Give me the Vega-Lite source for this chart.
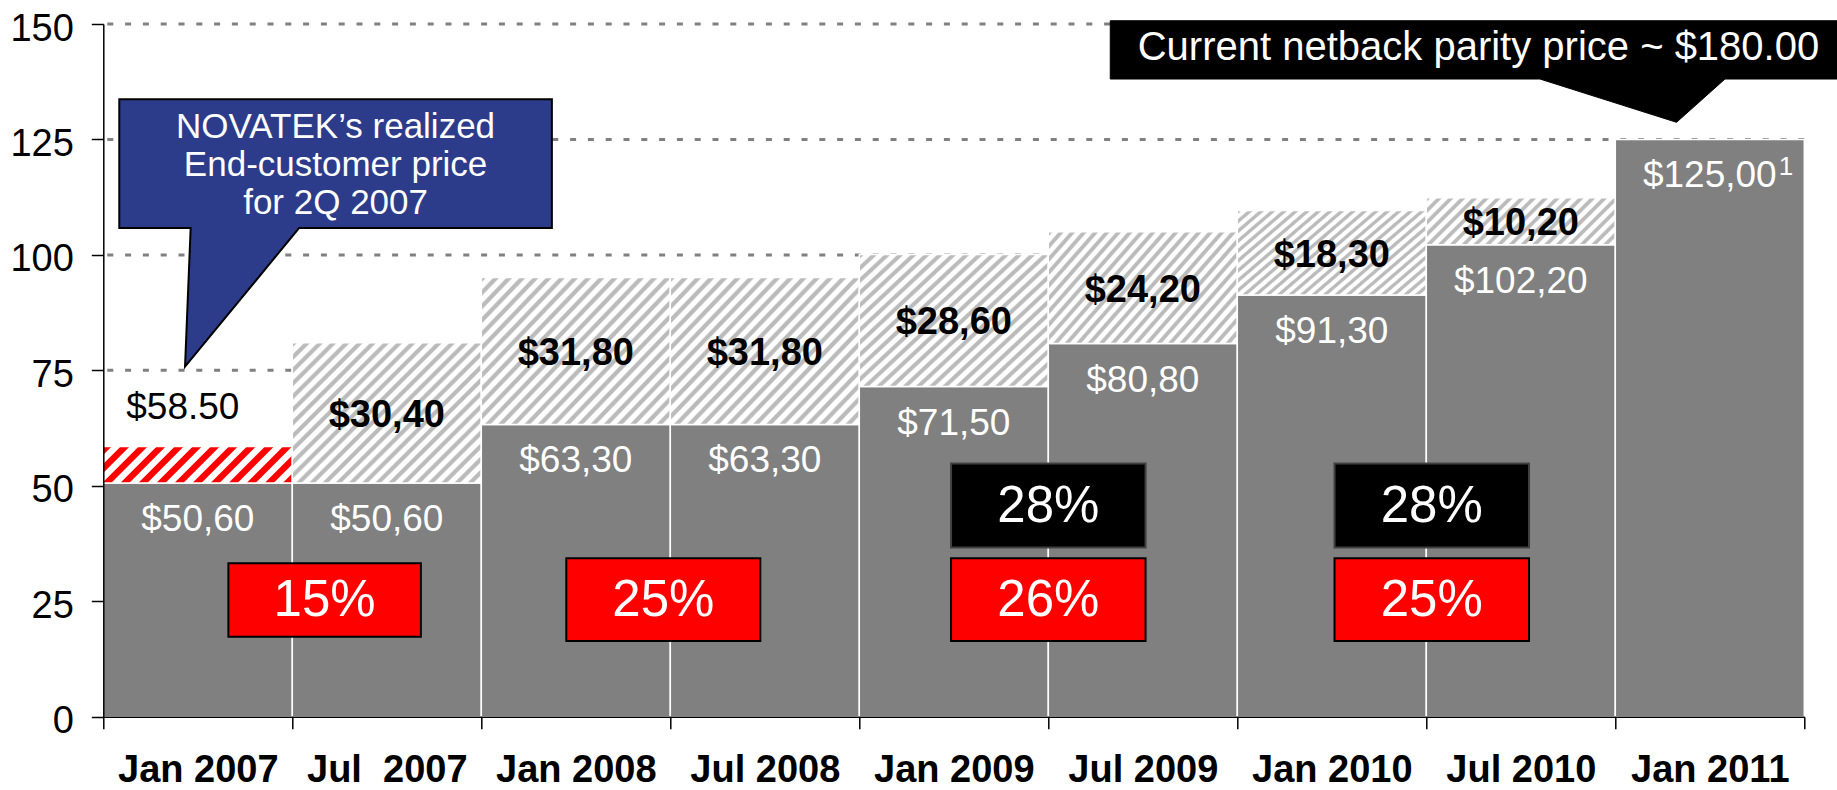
{
  "$schema": "https://vega.github.io/schema/vega-lite/v6.json",
  "width": 1701,
  "height": 692.7,
  "autosize": {"type": "none"},
  "padding": {"left": 103.3, "top": 24, "right": 32.7, "bottom": 73.3},
  "background": "#ffffff",
  "config": {"view": {"stroke": null}, "font": "Liberation Sans"},
  "datasets": {
    "bars": [
      {"period": "Jan 2007", "seg": "base", "value": 50.6, "label": "$50,60", "note": ""},
      {"period": "Jan 2007", "seg": "inc", "value": 7.9, "label": "$58.50", "note": ""},
      {"period": "Jul\u00a0 2007", "seg": "base", "value": 50.6, "label": "$50,60", "note": ""},
      {"period": "Jul\u00a0 2007", "seg": "inc", "value": 30.4, "label": "$30,40", "note": ""},
      {"period": "Jan 2008", "seg": "base", "value": 63.3, "label": "$63,30", "note": ""},
      {"period": "Jan 2008", "seg": "inc", "value": 31.8, "label": "$31,80", "note": ""},
      {"period": "Jul 2008", "seg": "base", "value": 63.3, "label": "$63,30", "note": ""},
      {"period": "Jul 2008", "seg": "inc", "value": 31.8, "label": "$31,80", "note": ""},
      {"period": "Jan 2009", "seg": "base", "value": 71.5, "label": "$71,50", "note": ""},
      {"period": "Jan 2009", "seg": "inc", "value": 28.6, "label": "$28,60", "note": ""},
      {"period": "Jul 2009", "seg": "base", "value": 80.8, "label": "$80,80", "note": ""},
      {"period": "Jul 2009", "seg": "inc", "value": 24.2, "label": "$24,20", "note": ""},
      {"period": "Jan 2010", "seg": "base", "value": 91.3, "label": "$91,30", "note": ""},
      {"period": "Jan 2010", "seg": "inc", "value": 18.3, "label": "$18,30", "note": ""},
      {"period": "Jul 2010", "seg": "base", "value": 102.2, "label": "$102,20", "note": ""},
      {"period": "Jul 2010", "seg": "inc", "value": 10.2, "label": "$10,20", "note": ""},
      {"period": "Jan 2011", "seg": "base", "value": 125.0, "label": "$125,00", "note": "1"}
    ],
    "grid": [{"v": 25}, {"v": 50}, {"v": 75}, {"v": 100}, {"v": 125}, {"v": 150}],
    "shares": [
      {"pct": "15%", "at": "Jul\u00a0 2007", "lvl": 25.27, "kind": "small", "grp": "g07"},
      {"pct": "25%", "at": "Jan 2008", "lvl": 25.34, "kind": "red", "grp": "g08"},
      {"pct": "26%", "at": "Jul 2009", "lvl": 25.34, "kind": "red", "grp": "g09"},
      {"pct": "28%", "at": "Jul 2009", "lvl": 45.73, "kind": "black", "grp": "g09"},
      {"pct": "25%", "at": "Jul 2010", "lvl": 25.34, "kind": "red", "grp": "g10"},
      {"pct": "28%", "at": "Jul 2010", "lvl": 45.73, "kind": "black", "grp": "g10"}
    ],
    "notes": [
      {"note": "NOVATEK\u2019s realized\nEnd-customer price\nfor 2Q 2007", "at": "Jul\u00a0 2007", "lvl": 104.74, "kind": "blue"},
      {"note": "Current netback parity price ~ $180.00", "at": "Jul 2010", "lvl": 139.6, "kind": "black"}
    ]
  },
  "layer": [
    {
      "data": {"name": "grid"},
      "mark": {"type": "rule", "stroke": "#808080", "strokeWidth": 3, "strokeDash": [6, 11.8]},
      "encoding": {
        "y": {
          "field": "v", "type": "quantitative", "title": null,
          "scale": {"domain": [0, 150], "nice": false, "zero": true},
          "axis": {
            "values": [0, 25, 50, 75, 100, 125, 150], "grid": false, "zindex": 1,
            "domainColor": "#000000", "domainWidth": 1.5,
            "tickColor": "#000000", "tickWidth": 1.5, "tickSize": 12,
            "labelFont": "Liberation Sans", "labelFontSize": 38, "labelColor": "#000000",
            "labelPadding": 18, "labelOffset": 5, "labelOverlap": false
          }
        }
      }
    },
    {
      "data": {"name": "bars"},
      "mark": {"type": "bar", "stroke": "#ffffff", "strokeWidth": 1.5},
      "encoding": {
        "x": {
          "field": "period", "type": "nominal", "title": null,
          "scale": {
            "domain": ["Jan 2007", "Jul\u00a0 2007", "Jan 2008", "Jul 2008", "Jan 2009", "Jul 2009", "Jan 2010", "Jul 2010", "Jan 2011"],
            "paddingInner": 0, "paddingOuter": 0
          },
          "axis": {
            "tickBand": "extent", "zindex": 1, "labelAngle": 0,
            "domainColor": "#000000", "domainWidth": 1.5,
            "tickColor": "#000000", "tickWidth": 1.5, "tickSize": 12,
            "labelFont": "Liberation Sans", "labelFontSize": 38, "labelFontWeight": "bold",
            "labelColor": "#000000", "labelPadding": 23, "labelLimit": 400
          }
        },
        "y": {"field": "value", "type": "quantitative", "stack": "zero", "title": null},
        "detail": {"field": "seg"},
        "order": {"field": "seg"},
        "fill": {
          "condition": [
            {"test": "datum.seg === 'base'", "value": "#808080"},
            {"test": "datum.period === 'Jan 2007'", "value": {
              "gradient": "linear", "x1": 0, "y1": 0, "x2": 1.150, "y2": 0.222,
              "stops": [
                {"offset": 0, "color": "#ff0000"}, {"offset": 0.034, "color": "#ff0000"}, {"offset": 0.04, "color": "#ffffff"}, {"offset": 0.074, "color": "#ffffff"},
                {"offset": 0.08, "color": "#ff0000"}, {"offset": 0.114, "color": "#ff0000"}, {"offset": 0.12, "color": "#ffffff"}, {"offset": 0.154, "color": "#ffffff"},
                {"offset": 0.16, "color": "#ff0000"}, {"offset": 0.194, "color": "#ff0000"}, {"offset": 0.2, "color": "#ffffff"}, {"offset": 0.234, "color": "#ffffff"},
                {"offset": 0.24, "color": "#ff0000"}, {"offset": 0.274, "color": "#ff0000"}, {"offset": 0.28, "color": "#ffffff"}, {"offset": 0.314, "color": "#ffffff"},
                {"offset": 0.32, "color": "#ff0000"}, {"offset": 0.354, "color": "#ff0000"}, {"offset": 0.36, "color": "#ffffff"}, {"offset": 0.394, "color": "#ffffff"},
                {"offset": 0.4, "color": "#ff0000"}, {"offset": 0.434, "color": "#ff0000"}, {"offset": 0.44, "color": "#ffffff"}, {"offset": 0.474, "color": "#ffffff"},
                {"offset": 0.48, "color": "#ff0000"}, {"offset": 0.514, "color": "#ff0000"}, {"offset": 0.52, "color": "#ffffff"}, {"offset": 0.554, "color": "#ffffff"},
                {"offset": 0.56, "color": "#ff0000"}, {"offset": 0.594, "color": "#ff0000"}, {"offset": 0.6, "color": "#ffffff"}, {"offset": 0.634, "color": "#ffffff"},
                {"offset": 0.64, "color": "#ff0000"}, {"offset": 0.674, "color": "#ff0000"}, {"offset": 0.68, "color": "#ffffff"}, {"offset": 0.714, "color": "#ffffff"},
                {"offset": 0.72, "color": "#ff0000"}, {"offset": 0.754, "color": "#ff0000"}, {"offset": 0.76, "color": "#ffffff"}, {"offset": 0.794, "color": "#ffffff"},
                {"offset": 0.8, "color": "#ff0000"}, {"offset": 0.834, "color": "#ff0000"}, {"offset": 0.84, "color": "#ffffff"}, {"offset": 0.874, "color": "#ffffff"},
                {"offset": 0.88, "color": "#ff0000"}, {"offset": 0.914, "color": "#ff0000"}, {"offset": 0.92, "color": "#ffffff"}, {"offset": 0.954, "color": "#ffffff"},
                {"offset": 0.96, "color": "#ff0000"}, {"offset": 0.994, "color": "#ff0000"}, {"offset": 1, "color": "#ffffff"}
              ]
            }},
            {"test": "datum.period === 'Jul 2009' || datum.period === 'Jan 2010'", "value": {
              "gradient": "linear", "x1": 0, "y1": 0, "x2": 1.1965, "y2": 0.6222,
              "stops": [
                {"offset": 0, "color": "#bbbbbb"}, {"offset": 0.012, "color": "#bbbbbb"}, {"offset": 0.018, "color": "#ffffff"}, {"offset": 0.034, "color": "#ffffff"},
                {"offset": 0.04, "color": "#bbbbbb"}, {"offset": 0.052, "color": "#bbbbbb"}, {"offset": 0.058, "color": "#ffffff"}, {"offset": 0.074, "color": "#ffffff"},
                {"offset": 0.08, "color": "#bbbbbb"}, {"offset": 0.092, "color": "#bbbbbb"}, {"offset": 0.098, "color": "#ffffff"}, {"offset": 0.114, "color": "#ffffff"},
                {"offset": 0.12, "color": "#bbbbbb"}, {"offset": 0.132, "color": "#bbbbbb"}, {"offset": 0.138, "color": "#ffffff"}, {"offset": 0.154, "color": "#ffffff"},
                {"offset": 0.16, "color": "#bbbbbb"}, {"offset": 0.172, "color": "#bbbbbb"}, {"offset": 0.178, "color": "#ffffff"}, {"offset": 0.194, "color": "#ffffff"},
                {"offset": 0.2, "color": "#bbbbbb"}, {"offset": 0.212, "color": "#bbbbbb"}, {"offset": 0.218, "color": "#ffffff"}, {"offset": 0.234, "color": "#ffffff"},
                {"offset": 0.24, "color": "#bbbbbb"}, {"offset": 0.252, "color": "#bbbbbb"}, {"offset": 0.258, "color": "#ffffff"}, {"offset": 0.274, "color": "#ffffff"},
                {"offset": 0.28, "color": "#bbbbbb"}, {"offset": 0.292, "color": "#bbbbbb"}, {"offset": 0.298, "color": "#ffffff"}, {"offset": 0.314, "color": "#ffffff"},
                {"offset": 0.32, "color": "#bbbbbb"}, {"offset": 0.332, "color": "#bbbbbb"}, {"offset": 0.338, "color": "#ffffff"}, {"offset": 0.354, "color": "#ffffff"},
                {"offset": 0.36, "color": "#bbbbbb"}, {"offset": 0.372, "color": "#bbbbbb"}, {"offset": 0.378, "color": "#ffffff"}, {"offset": 0.394, "color": "#ffffff"},
                {"offset": 0.4, "color": "#bbbbbb"}, {"offset": 0.412, "color": "#bbbbbb"}, {"offset": 0.418, "color": "#ffffff"}, {"offset": 0.434, "color": "#ffffff"},
                {"offset": 0.44, "color": "#bbbbbb"}, {"offset": 0.452, "color": "#bbbbbb"}, {"offset": 0.458, "color": "#ffffff"}, {"offset": 0.474, "color": "#ffffff"},
                {"offset": 0.48, "color": "#bbbbbb"}, {"offset": 0.492, "color": "#bbbbbb"}, {"offset": 0.498, "color": "#ffffff"}, {"offset": 0.514, "color": "#ffffff"},
                {"offset": 0.52, "color": "#bbbbbb"}, {"offset": 0.532, "color": "#bbbbbb"}, {"offset": 0.538, "color": "#ffffff"}, {"offset": 0.554, "color": "#ffffff"},
                {"offset": 0.56, "color": "#bbbbbb"}, {"offset": 0.572, "color": "#bbbbbb"}, {"offset": 0.578, "color": "#ffffff"}, {"offset": 0.594, "color": "#ffffff"},
                {"offset": 0.6, "color": "#bbbbbb"}, {"offset": 0.612, "color": "#bbbbbb"}, {"offset": 0.618, "color": "#ffffff"}, {"offset": 0.634, "color": "#ffffff"},
                {"offset": 0.64, "color": "#bbbbbb"}, {"offset": 0.652, "color": "#bbbbbb"}, {"offset": 0.658, "color": "#ffffff"}, {"offset": 0.674, "color": "#ffffff"},
                {"offset": 0.68, "color": "#bbbbbb"}, {"offset": 0.692, "color": "#bbbbbb"}, {"offset": 0.698, "color": "#ffffff"}, {"offset": 0.714, "color": "#ffffff"},
                {"offset": 0.72, "color": "#bbbbbb"}, {"offset": 0.732, "color": "#bbbbbb"}, {"offset": 0.738, "color": "#ffffff"}, {"offset": 0.754, "color": "#ffffff"},
                {"offset": 0.76, "color": "#bbbbbb"}, {"offset": 0.772, "color": "#bbbbbb"}, {"offset": 0.778, "color": "#ffffff"}, {"offset": 0.794, "color": "#ffffff"},
                {"offset": 0.8, "color": "#bbbbbb"}, {"offset": 0.812, "color": "#bbbbbb"}, {"offset": 0.818, "color": "#ffffff"}, {"offset": 0.834, "color": "#ffffff"},
                {"offset": 0.84, "color": "#bbbbbb"}, {"offset": 0.852, "color": "#bbbbbb"}, {"offset": 0.858, "color": "#ffffff"}, {"offset": 0.874, "color": "#ffffff"},
                {"offset": 0.88, "color": "#bbbbbb"}, {"offset": 0.892, "color": "#bbbbbb"}, {"offset": 0.898, "color": "#ffffff"}, {"offset": 0.914, "color": "#ffffff"},
                {"offset": 0.92, "color": "#bbbbbb"}, {"offset": 0.932, "color": "#bbbbbb"}, {"offset": 0.938, "color": "#ffffff"}, {"offset": 0.954, "color": "#ffffff"},
                {"offset": 0.96, "color": "#bbbbbb"}, {"offset": 0.972, "color": "#bbbbbb"}, {"offset": 0.978, "color": "#ffffff"}, {"offset": 0.994, "color": "#ffffff"},
                {"offset": 1, "color": "#bbbbbb"}
              ]
            }},
            {"test": "datum.period === 'Jul 2010'", "value": {
              "gradient": "linear", "x1": 0, "y1": 0, "x2": 1.176, "y2": 0.2929,
              "stops": [
                {"offset": 0, "color": "#bbbbbb"}, {"offset": 0.015, "color": "#bbbbbb"}, {"offset": 0.0225, "color": "#ffffff"}, {"offset": 0.0425, "color": "#ffffff"},
                {"offset": 0.05, "color": "#bbbbbb"}, {"offset": 0.065, "color": "#bbbbbb"}, {"offset": 0.0725, "color": "#ffffff"}, {"offset": 0.0925, "color": "#ffffff"},
                {"offset": 0.1, "color": "#bbbbbb"}, {"offset": 0.115, "color": "#bbbbbb"}, {"offset": 0.1225, "color": "#ffffff"}, {"offset": 0.1425, "color": "#ffffff"},
                {"offset": 0.15, "color": "#bbbbbb"}, {"offset": 0.165, "color": "#bbbbbb"}, {"offset": 0.1725, "color": "#ffffff"}, {"offset": 0.1925, "color": "#ffffff"},
                {"offset": 0.2, "color": "#bbbbbb"}, {"offset": 0.215, "color": "#bbbbbb"}, {"offset": 0.2225, "color": "#ffffff"}, {"offset": 0.2425, "color": "#ffffff"},
                {"offset": 0.25, "color": "#bbbbbb"}, {"offset": 0.265, "color": "#bbbbbb"}, {"offset": 0.2725, "color": "#ffffff"}, {"offset": 0.2925, "color": "#ffffff"},
                {"offset": 0.3, "color": "#bbbbbb"}, {"offset": 0.315, "color": "#bbbbbb"}, {"offset": 0.3225, "color": "#ffffff"}, {"offset": 0.3425, "color": "#ffffff"},
                {"offset": 0.35, "color": "#bbbbbb"}, {"offset": 0.365, "color": "#bbbbbb"}, {"offset": 0.3725, "color": "#ffffff"}, {"offset": 0.3925, "color": "#ffffff"},
                {"offset": 0.4, "color": "#bbbbbb"}, {"offset": 0.415, "color": "#bbbbbb"}, {"offset": 0.4225, "color": "#ffffff"}, {"offset": 0.4425, "color": "#ffffff"},
                {"offset": 0.45, "color": "#bbbbbb"}, {"offset": 0.465, "color": "#bbbbbb"}, {"offset": 0.4725, "color": "#ffffff"}, {"offset": 0.4925, "color": "#ffffff"},
                {"offset": 0.5, "color": "#bbbbbb"}, {"offset": 0.515, "color": "#bbbbbb"}, {"offset": 0.5225, "color": "#ffffff"}, {"offset": 0.5425, "color": "#ffffff"},
                {"offset": 0.55, "color": "#bbbbbb"}, {"offset": 0.565, "color": "#bbbbbb"}, {"offset": 0.5725, "color": "#ffffff"}, {"offset": 0.5925, "color": "#ffffff"},
                {"offset": 0.6, "color": "#bbbbbb"}, {"offset": 0.615, "color": "#bbbbbb"}, {"offset": 0.6225, "color": "#ffffff"}, {"offset": 0.6425, "color": "#ffffff"},
                {"offset": 0.65, "color": "#bbbbbb"}, {"offset": 0.665, "color": "#bbbbbb"}, {"offset": 0.6725, "color": "#ffffff"}, {"offset": 0.6925, "color": "#ffffff"},
                {"offset": 0.7, "color": "#bbbbbb"}, {"offset": 0.715, "color": "#bbbbbb"}, {"offset": 0.7225, "color": "#ffffff"}, {"offset": 0.7425, "color": "#ffffff"},
                {"offset": 0.75, "color": "#bbbbbb"}, {"offset": 0.765, "color": "#bbbbbb"}, {"offset": 0.7725, "color": "#ffffff"}, {"offset": 0.7925, "color": "#ffffff"},
                {"offset": 0.8, "color": "#bbbbbb"}, {"offset": 0.815, "color": "#bbbbbb"}, {"offset": 0.8225, "color": "#ffffff"}, {"offset": 0.8425, "color": "#ffffff"},
                {"offset": 0.85, "color": "#bbbbbb"}, {"offset": 0.865, "color": "#bbbbbb"}, {"offset": 0.8725, "color": "#ffffff"}, {"offset": 0.8925, "color": "#ffffff"},
                {"offset": 0.9, "color": "#bbbbbb"}, {"offset": 0.915, "color": "#bbbbbb"}, {"offset": 0.9225, "color": "#ffffff"}, {"offset": 0.9425, "color": "#ffffff"},
                {"offset": 0.95, "color": "#bbbbbb"}, {"offset": 0.965, "color": "#bbbbbb"}, {"offset": 0.9725, "color": "#ffffff"}, {"offset": 0.9925, "color": "#ffffff"},
                {"offset": 1, "color": "#bbbbbb"}
              ]
            }}
          ],
          "value": {
            "gradient": "linear", "x1": 0, "y1": 0, "x2": 1.1218, "y2": 0.8369,
            "stops": [
              {"offset": 0, "color": "#bbbbbb"}, {"offset": 0.012, "color": "#bbbbbb"}, {"offset": 0.018, "color": "#ffffff"}, {"offset": 0.034, "color": "#ffffff"},
              {"offset": 0.04, "color": "#bbbbbb"}, {"offset": 0.052, "color": "#bbbbbb"}, {"offset": 0.058, "color": "#ffffff"}, {"offset": 0.074, "color": "#ffffff"},
              {"offset": 0.08, "color": "#bbbbbb"}, {"offset": 0.092, "color": "#bbbbbb"}, {"offset": 0.098, "color": "#ffffff"}, {"offset": 0.114, "color": "#ffffff"},
              {"offset": 0.12, "color": "#bbbbbb"}, {"offset": 0.132, "color": "#bbbbbb"}, {"offset": 0.138, "color": "#ffffff"}, {"offset": 0.154, "color": "#ffffff"},
              {"offset": 0.16, "color": "#bbbbbb"}, {"offset": 0.172, "color": "#bbbbbb"}, {"offset": 0.178, "color": "#ffffff"}, {"offset": 0.194, "color": "#ffffff"},
              {"offset": 0.2, "color": "#bbbbbb"}, {"offset": 0.212, "color": "#bbbbbb"}, {"offset": 0.218, "color": "#ffffff"}, {"offset": 0.234, "color": "#ffffff"},
              {"offset": 0.24, "color": "#bbbbbb"}, {"offset": 0.252, "color": "#bbbbbb"}, {"offset": 0.258, "color": "#ffffff"}, {"offset": 0.274, "color": "#ffffff"},
              {"offset": 0.28, "color": "#bbbbbb"}, {"offset": 0.292, "color": "#bbbbbb"}, {"offset": 0.298, "color": "#ffffff"}, {"offset": 0.314, "color": "#ffffff"},
              {"offset": 0.32, "color": "#bbbbbb"}, {"offset": 0.332, "color": "#bbbbbb"}, {"offset": 0.338, "color": "#ffffff"}, {"offset": 0.354, "color": "#ffffff"},
              {"offset": 0.36, "color": "#bbbbbb"}, {"offset": 0.372, "color": "#bbbbbb"}, {"offset": 0.378, "color": "#ffffff"}, {"offset": 0.394, "color": "#ffffff"},
              {"offset": 0.4, "color": "#bbbbbb"}, {"offset": 0.412, "color": "#bbbbbb"}, {"offset": 0.418, "color": "#ffffff"}, {"offset": 0.434, "color": "#ffffff"},
              {"offset": 0.44, "color": "#bbbbbb"}, {"offset": 0.452, "color": "#bbbbbb"}, {"offset": 0.458, "color": "#ffffff"}, {"offset": 0.474, "color": "#ffffff"},
              {"offset": 0.48, "color": "#bbbbbb"}, {"offset": 0.492, "color": "#bbbbbb"}, {"offset": 0.498, "color": "#ffffff"}, {"offset": 0.514, "color": "#ffffff"},
              {"offset": 0.52, "color": "#bbbbbb"}, {"offset": 0.532, "color": "#bbbbbb"}, {"offset": 0.538, "color": "#ffffff"}, {"offset": 0.554, "color": "#ffffff"},
              {"offset": 0.56, "color": "#bbbbbb"}, {"offset": 0.572, "color": "#bbbbbb"}, {"offset": 0.578, "color": "#ffffff"}, {"offset": 0.594, "color": "#ffffff"},
              {"offset": 0.6, "color": "#bbbbbb"}, {"offset": 0.612, "color": "#bbbbbb"}, {"offset": 0.618, "color": "#ffffff"}, {"offset": 0.634, "color": "#ffffff"},
              {"offset": 0.64, "color": "#bbbbbb"}, {"offset": 0.652, "color": "#bbbbbb"}, {"offset": 0.658, "color": "#ffffff"}, {"offset": 0.674, "color": "#ffffff"},
              {"offset": 0.68, "color": "#bbbbbb"}, {"offset": 0.692, "color": "#bbbbbb"}, {"offset": 0.698, "color": "#ffffff"}, {"offset": 0.714, "color": "#ffffff"},
              {"offset": 0.72, "color": "#bbbbbb"}, {"offset": 0.732, "color": "#bbbbbb"}, {"offset": 0.738, "color": "#ffffff"}, {"offset": 0.754, "color": "#ffffff"},
              {"offset": 0.76, "color": "#bbbbbb"}, {"offset": 0.772, "color": "#bbbbbb"}, {"offset": 0.778, "color": "#ffffff"}, {"offset": 0.794, "color": "#ffffff"},
              {"offset": 0.8, "color": "#bbbbbb"}, {"offset": 0.812, "color": "#bbbbbb"}, {"offset": 0.818, "color": "#ffffff"}, {"offset": 0.834, "color": "#ffffff"},
              {"offset": 0.84, "color": "#bbbbbb"}, {"offset": 0.852, "color": "#bbbbbb"}, {"offset": 0.858, "color": "#ffffff"}, {"offset": 0.874, "color": "#ffffff"},
              {"offset": 0.88, "color": "#bbbbbb"}, {"offset": 0.892, "color": "#bbbbbb"}, {"offset": 0.898, "color": "#ffffff"}, {"offset": 0.914, "color": "#ffffff"},
              {"offset": 0.92, "color": "#bbbbbb"}, {"offset": 0.932, "color": "#bbbbbb"}, {"offset": 0.938, "color": "#ffffff"}, {"offset": 0.954, "color": "#ffffff"},
              {"offset": 0.96, "color": "#bbbbbb"}, {"offset": 0.972, "color": "#bbbbbb"}, {"offset": 0.978, "color": "#ffffff"}, {"offset": 0.994, "color": "#ffffff"},
              {"offset": 1, "color": "#bbbbbb"}
            ]
          }
        }
      }
    },
    {
      "data": {"name": "bars"},
      "mark": {"type": "text", "font": "Liberation Sans", "fontSize": 37, "fill": "#ffffff", "align": "center", "baseline": "alphabetic", "dy": 48},
      "encoding": {
        "x": {"field": "period", "type": "nominal", "title": null},
        "y": {"field": "value", "type": "quantitative", "stack": "zero", "title": null},
        "detail": {"field": "seg"},
        "order": {"field": "seg"},
        "text": {"condition": {"test": "datum.seg === 'base'", "field": "label", "type": "nominal"}, "value": ""}
      }
    },
    {
      "data": {"name": "bars"},
      "mark": {"type": "text", "font": "Liberation Sans", "fontSize": 26, "fill": "#ffffff", "align": "left", "baseline": "alphabetic", "dy": 35.6, "dx": 69},
      "encoding": {
        "x": {"field": "period", "type": "nominal", "title": null},
        "y": {"field": "value", "type": "quantitative", "stack": "zero", "title": null},
        "detail": {"field": "seg"},
        "order": {"field": "seg"},
        "text": {"field": "note", "type": "nominal"}
      }
    },
    {
      "data": {"name": "bars"},
      "mark": {"type": "text", "font": "Liberation Sans", "fontSize": 38, "fontWeight": "bold", "fill": "#000000", "align": "center", "baseline": "middle", "dy": 3},
      "encoding": {
        "x": {"field": "period", "type": "nominal", "title": null},
        "y": {"field": "value", "type": "quantitative", "stack": "zero", "bandPosition": 0.5, "title": null},
        "detail": {"field": "seg"},
        "order": {"field": "seg"},
        "text": {"condition": {"test": "datum.seg === 'inc' && datum.period !== 'Jan 2007'", "field": "label", "type": "nominal"}, "value": ""}
      }
    },
    {
      "data": {"name": "bars"},
      "mark": {"type": "text", "font": "Liberation Sans", "fontSize": 37, "fill": "#000000", "align": "center", "baseline": "middle", "dy": -38.6, "dx": -15},
      "encoding": {
        "x": {"field": "period", "type": "nominal", "title": null},
        "y": {"field": "value", "type": "quantitative", "stack": "zero", "title": null},
        "detail": {"field": "seg"},
        "order": {"field": "seg"},
        "text": {"condition": {"test": "datum.seg === 'inc' && datum.period === 'Jan 2007'", "field": "label", "type": "nominal"}, "value": ""}
      }
    },
    {
      "data": {"name": "shares"},
      "transform": [{"filter": "datum.grp === 'g07'"}],
      "encoding": {
        "x": {"field": "at", "type": "nominal", "bandPosition": 0.171, "title": null},
        "y": {"field": "lvl", "type": "quantitative", "title": null}
      },
      "layer": [
        {"mark": {"type": "point", "shape": "M-1,-0.381H1V0.381H-1Z", "size": 37056, "filled": true, "fill": "#ff0000", "stroke": "#000000", "strokeWidth": 2, "opacity": 1}},
        {"mark": {"type": "text", "font": "Liberation Sans", "fontSize": 51, "fill": "#ffffff", "align": "center", "baseline": "middle", "dy": 1}, "encoding": {"text": {"field": "pct"}}}
      ]
    },
    {
      "data": {"name": "shares"},
      "transform": [{"filter": "datum.grp === 'g08'"}],
      "encoding": {
        "x": {"field": "at", "type": "nominal", "bandPosition": 0.963, "title": null},
        "y": {"field": "lvl", "type": "quantitative", "title": null}
      },
      "layer": [
        {"mark": {"type": "point", "shape": "M-1,-0.426H1V0.426H-1Z", "size": 37636, "filled": true, "fill": "#ff0000", "stroke": "#000000", "strokeWidth": 2, "opacity": 1}},
        {"mark": {"type": "text", "font": "Liberation Sans", "fontSize": 51, "fill": "#ffffff", "align": "center", "baseline": "middle", "dy": 1}, "encoding": {"text": {"field": "pct"}}}
      ]
    },
    {
      "data": {"name": "shares"},
      "transform": [{"filter": "datum.grp === 'g09'"}],
      "encoding": {
        "x": {"field": "at", "type": "nominal", "bandPosition": 0, "title": null},
        "y": {"field": "lvl", "type": "quantitative", "title": null}
      },
      "layer": [
        {
          "mark": {"type": "point", "size": 37830, "filled": true, "strokeWidth": 2, "opacity": 1},
          "encoding": {
            "shape": {"condition": {"test": "datum.kind === 'black'", "value": "M-1,-0.432H1V0.432H-1Z"}, "value": "M-1,-0.426H1V0.426H-1Z"},
            "fill": {"condition": {"test": "datum.kind === 'black'", "value": "#000000"}, "value": "#ff0000"},
            "stroke": {"condition": {"test": "datum.kind === 'black'", "value": "#404040"}, "value": "#000000"}
          }
        },
        {"mark": {"type": "text", "font": "Liberation Sans", "fontSize": 51, "fill": "#ffffff", "align": "center", "baseline": "middle", "dy": 1}, "encoding": {"text": {"field": "pct"}}}
      ]
    },
    {
      "data": {"name": "shares"},
      "transform": [{"filter": "datum.grp === 'g10'"}],
      "encoding": {
        "x": {"field": "at", "type": "nominal", "bandPosition": 0.029, "title": null},
        "y": {"field": "lvl", "type": "quantitative", "title": null}
      },
      "layer": [
        {
          "mark": {"type": "point", "size": 37830, "filled": true, "strokeWidth": 2, "opacity": 1},
          "encoding": {
            "shape": {"condition": {"test": "datum.kind === 'black'", "value": "M-1,-0.432H1V0.432H-1Z"}, "value": "M-1,-0.426H1V0.426H-1Z"},
            "fill": {"condition": {"test": "datum.kind === 'black'", "value": "#000000"}, "value": "#ff0000"},
            "stroke": {"condition": {"test": "datum.kind === 'black'", "value": "#404040"}, "value": "#000000"}
          }
        },
        {"mark": {"type": "text", "font": "Liberation Sans", "fontSize": 51, "fill": "#ffffff", "align": "center", "baseline": "middle", "dy": 1}, "encoding": {"text": {"field": "pct"}}}
      ]
    },
    {
      "data": {"name": "notes"},
      "transform": [{"filter": "datum.kind === 'blue'"}],
      "encoding": {
        "x": {"field": "at", "type": "nominal", "bandPosition": 0.229, "title": null},
        "y": {"field": "lvl", "type": "quantitative", "title": null}
      },
      "layer": [
        {"mark": {"type": "point", "shape": "M-1,-0.618H1V-0.023H-0.169L-0.696,0.618L-0.670,-0.023H-1Z", "size": 187143, "filled": true, "fill": "#2c3c8a", "stroke": "#000000", "strokeWidth": 2, "opacity": 1}},
        {"mark": {"type": "text", "font": "Liberation Sans", "fontSize": 35, "fill": "#ffffff", "align": "center", "baseline": "alphabetic", "lineBreak": "\n", "lineHeight": 38, "dy": -95}, "encoding": {"text": {"field": "note"}}}
      ]
    },
    {
      "data": {"name": "notes"},
      "transform": [{"filter": "datum.kind === 'black'"}],
      "encoding": {
        "x": {"field": "at", "type": "nominal", "bandPosition": 0.276, "title": null},
        "y": {"field": "lvl", "type": "quantitative", "title": null}
      },
      "layer": [
        {"mark": {"type": "point", "shape": "M-1,-0.1393H1V0.019H0.6695L0.538,0.1366L0.167,0.019H-1Z", "size": 542285, "filled": true, "fill": "#000000", "stroke": "#000000", "strokeWidth": 1, "opacity": 1}},
        {"mark": {"type": "text", "font": "Liberation Sans", "fontSize": 40, "fill": "#ffffff", "align": "center", "baseline": "alphabetic", "dy": -12}, "encoding": {"text": {"field": "note"}}}
      ]
    }
  ]
}
